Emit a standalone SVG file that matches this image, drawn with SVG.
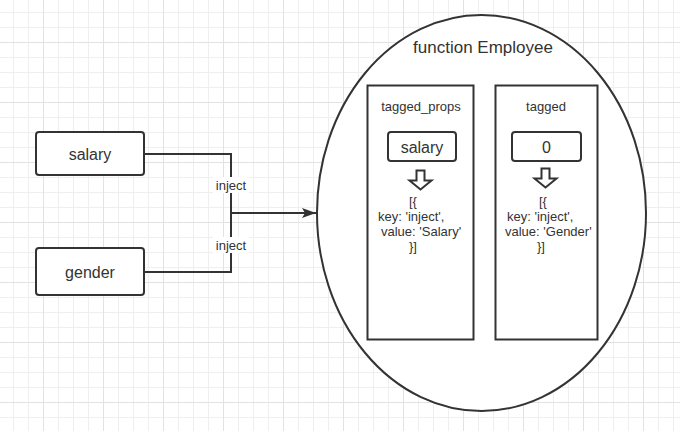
<svg xmlns="http://www.w3.org/2000/svg" width="680" height="431" viewBox="0 0 680 431">
<defs>
<pattern id="grid" x="43" y="42" width="60" height="60" patternUnits="userSpaceOnUse">
<path d="M15.5 0V60M30.5 0V60M45.5 0V60M0 15.5H60M0 30.5H60M0 45.5H60" stroke="#efefef" stroke-width="1" fill="none"/>
<path d="M0.5 0V60M0 0.5H60" stroke="#e2e2e2" stroke-width="1" fill="none"/>
</pattern>
<marker id="arr" markerWidth="14" markerHeight="12" refX="14" refY="6" orient="auto" markerUnits="userSpaceOnUse">
<path d="M0 1L14 6L0 11L3 6Z" fill="#333"/>
</marker>
</defs>
<style>
.b{fill:#fff;stroke:#333;stroke-width:2}
.t{font-family:"Liberation Sans",Arial,sans-serif;fill:#333}
.c{text-anchor:middle}
.e{fill:none;stroke:#333;stroke-width:2}
</style>
<rect width="680" height="431" fill="#fff"/>
<rect width="680" height="431" fill="url(#grid)"/>

<g id="connectors">
<path class="e" d="M144 154H231V213"/>
<path class="e" d="M144 272H231V213"/>
<path class="e" d="M231 213H316" marker-end="url(#arr)"/>
<rect x="213" y="177" width="36" height="16" fill="#fff"/>
<text class="t c" x="231" y="190" font-size="13">inject</text>
<rect x="213" y="237" width="36" height="16" fill="#fff"/>
<text class="t c" x="231" y="250" font-size="13">inject</text>
</g>

<g id="salary">
<rect class="b" x="36" y="132" width="108" height="43" rx="3"/>
<text class="t c" x="90" y="160" font-size="16">salary</text>
</g>

<g id="gender">
<rect class="b" x="36" y="248" width="108" height="47" rx="3"/>
<text class="t c" x="90" y="278" font-size="16">gender</text>
</g>

<g id="employee">
<ellipse cx="481.5" cy="213" rx="164.5" ry="198" fill="#fff" stroke="#333" stroke-width="2"/>
<text class="t c" x="483" y="53" font-size="17">function Employee</text>
</g>

<g id="tagged_props">
<rect class="b" x="367.5" y="85.5" width="106" height="254"/>
<text class="t c" x="421" y="111" font-size="13">tagged_props</text>
<rect class="b" x="388" y="132" width="68" height="29" rx="3"/>
<text class="t c" x="422" y="153" font-size="16">salary</text>
<path d="M416.5 170.5H424.5V180.5H431.5L420.5 189.5L409.5 180.5H416.5Z" fill="#fff" stroke="#333" stroke-width="2" stroke-linejoin="miter"/>
<text class="t" font-size="13"><tspan x="409" y="206">[{</tspan><tspan x="378" y="221">key: 'inject',</tspan><tspan x="381" y="236">value: 'Salary'</tspan><tspan x="409" y="251">}]</tspan></text>
</g>

<g id="tagged">
<rect class="b" x="495.5" y="85.5" width="102" height="254"/>
<text class="t c" x="546" y="111" font-size="13">tagged</text>
<rect class="b" x="512" y="132" width="69" height="29" rx="3"/>
<text class="t c" x="546.5" y="153" font-size="16">0</text>
<path d="M541.5 168.5H549.5V178.5H556.5L545.5 187.5L534.5 178.5H541.5Z" fill="#fff" stroke="#333" stroke-width="2" stroke-linejoin="miter"/>
<text class="t" font-size="13"><tspan x="539" y="206">[{</tspan><tspan x="507" y="221">key: 'inject',</tspan><tspan x="505" y="236">value: 'Gender'</tspan><tspan x="537" y="251">}]</tspan></text>
</g>
</svg>
